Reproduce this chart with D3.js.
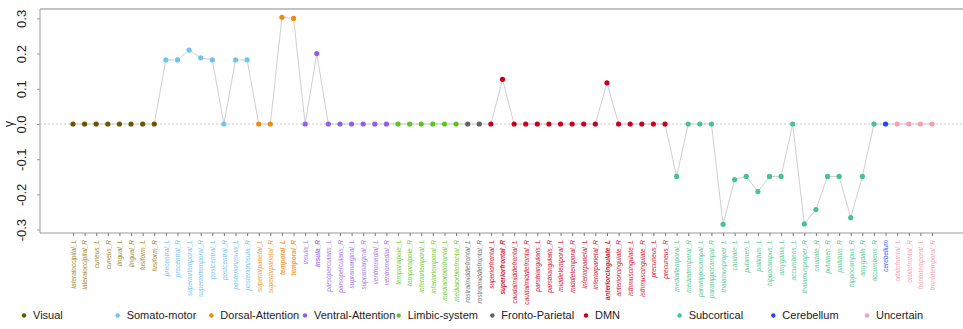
<!DOCTYPE html>
<html>
<head>
<meta charset="utf-8">
<script src="https://cdn.jsdelivr.net/npm/d3@7"></script>
<style>
  body { margin: 0; background: #fff; }
  svg { display: block; font-family: "Liberation Sans", Arial, sans-serif; }
</style>
</head>
<body>
<div id="chart"></div>
<script>
// regions, in plotting order
const regions = [
  'lateraloccipital_L', 'lateraloccipital_R', 'cuneus_L', 'cuneus_R', 'lingual_L', 'lingual_R', 'fusiform_L', 'fusiform_R',
  'precentral_L', 'precentral_R', 'superiortemporal_L', 'superiortemporal_R', 'postcentral_L', 'postcentral_R', 'posteriorinsula_L', 'posteriorinsula_R',
  'superiorparietal_L', 'superiorparietal_R', 'temporal_L', 'temporal_R',
  'insula_L', 'insula_R', 'parsopercularis_L', 'parsopercularis_R', 'supramarginal_L', 'supramarginal_R', 'ventromedial_L', 'ventromedial_R',
  'temporalpole_L', 'temporalpole_R', 'inferiortemporal_L', 'inferiortemporal_R', 'medialorbitofrontal_L', 'medialorbitofrontal_R',
  'rostralmiddlefrontal_L', 'rostralmiddlefrontal_R',
  'superiorfrontal_L', 'superiorfrontal_R', 'caudalmiddlefrontal_L', 'caudalmiddlefrontal_R', 'parstriangularis_L', 'parstriangularis_R',
  'middletemporal_L', 'middletemporal_R', 'inferiorparietal_L', 'inferiorparietal_R', 'anteriorcingulate_L', 'anteriorcingulate_R',
  'isthmuscingulate_L', 'isthmuscingulate_R', 'precuneus_L', 'precuneus_R',
  'medialtemporal_L', 'medialtemporal_R', 'parahippocampal_L', 'parahippocampal_R',
  'thalamusproper_L', 'caudate_L', 'putamen_L', 'pallidum_L', 'hippocampus_L', 'amygdala_L', 'accumbens_L',
  'thalamusproper_R', 'caudate_R', 'putamen_R', 'pallidum_R', 'hippocampus_R', 'amygdala_R', 'accumbens_R',
  'cerebellum',
  'orbitofrontal_L', 'orbitofrontal_R', 'frontotemporal_L', 'frontotemporal_R'
]

// network of each region
const networks = [
  'Visual', 'Visual', 'Visual', 'Visual', 'Visual', 'Visual', 'Visual', 'Visual',
  'Somato-motor', 'Somato-motor', 'Somato-motor', 'Somato-motor', 'Somato-motor', 'Somato-motor', 'Somato-motor', 'Somato-motor',
  'Dorsal-Attention', 'Dorsal-Attention', 'Dorsal-Attention', 'Dorsal-Attention',
  'Ventral-Attention', 'Ventral-Attention', 'Ventral-Attention', 'Ventral-Attention', 'Ventral-Attention', 'Ventral-Attention', 'Ventral-Attention', 'Ventral-Attention',
  'Limbic-system', 'Limbic-system', 'Limbic-system', 'Limbic-system', 'Limbic-system', 'Limbic-system',
  'Fronto-Parietal', 'Fronto-Parietal',
  'DMN', 'DMN', 'DMN', 'DMN', 'DMN', 'DMN', 'DMN', 'DMN', 'DMN', 'DMN', 'DMN', 'DMN', 'DMN', 'DMN', 'DMN', 'DMN',
  'Subcortical', 'Subcortical', 'Subcortical', 'Subcortical', 'Subcortical', 'Subcortical', 'Subcortical', 'Subcortical', 'Subcortical',
  'Subcortical', 'Subcortical', 'Subcortical', 'Subcortical', 'Subcortical', 'Subcortical', 'Subcortical', 'Subcortical', 'Subcortical',
  'Cerebellum',
  'Uncertain', 'Uncertain', 'Uncertain', 'Uncertain'
]

// gamma values
const gamma = [
  0, 0, 0, 0, 0, 0, 0, 0,
  0.182, 0.182, 0.21, 0.188, 0.182, 0, 0.182, 0.182,
  0, 0, 0.303, 0.30,
  0, 0.20, 0, 0, 0, 0, 0, 0,
  0, 0, 0, 0, 0, 0,
  0, 0,
  0, 0.127, 0, 0, 0, 0, 0, 0, 0, 0, 0.117, 0, 0, 0, 0, 0,
  -0.149, 0, 0, 0,
  -0.285, -0.158, -0.149, -0.192, -0.149, -0.149, 0,
  -0.284, -0.243, -0.149, -0.149, -0.266, -0.149, 0,
  0,
  0, 0, 0, 0
]

// labels drawn in bold
const boldLabels = ['temporal_L', 'temporal_R', 'insula_R', 'superiorfrontal_R', 'anteriorcingulate_L']

const legendNames = ['Visual', 'Somato-motor', 'Dorsal-Attention', 'Ventral-Attention', 'Limbic-system',
  'Fronto-Parietal', 'DMN', 'Subcortical', 'Cerebellum', 'Uncertain']
const legendColors = ['#6b5300', '#6ec3f7', '#ee8a10', '#8e5fe8', '#5cc41e',
  '#626262', '#c8001c', '#46c293', '#2548ea', '#f59fb0']
const labelColors = ['#a08c32', '#7cc6f4', '#f0a040', '#a581ec', '#78cd3c',
  '#7a7a7a', '#d4223c', '#5fcaa0', '#3f5fe8', '#f5a8b8']

const yTicks = [-0.3, -0.2, -0.1, 0.0, 0.1, 0.2, 0.3]

const width = 963
const height = 329
const plot = { left: 40, right: 963, top: 9, bottom: 233 }

const color = d3.scaleOrdinal().domain(legendNames).range(legendColors)
const labelColor = d3.scaleOrdinal().domain(legendNames).range(labelColors)

const svg = d3.select('#chart').append('svg')
  .attr('width', width)
  .attr('height', height)

const xScale = d3.scalePoint()
  .domain(regions)
  .range([73, 932])

const yScale = d3.scaleLinear()
  .domain([-0.3, 0.3])
  .range([229.6, 18.4])

// frame: top and left border
svg.append('line')
  .attr('x1', plot.left).attr('x2', plot.right)
  .attr('y1', plot.top).attr('y2', plot.top)
  .attr('stroke', '#c4c4c4').attr('stroke-width', 2)

// y axis
const yAxis = svg.append('g')
  .attr('transform', `translate(${plot.left}, 0)`)
  .call(d3.axisLeft(yScale).tickValues(yTicks).tickSize(3).tickFormat(d3.format('.1f')))
yAxis.select('.domain')
  .attr('d', `M0,${plot.top}V${plot.bottom}`)
  .attr('stroke', '#9a9a9a')
yAxis.selectAll('.tick line').attr('stroke', '#9a9a9a')
yAxis.selectAll('.tick text')
  .attr('x', null).attr('dy', null)
  .attr('transform', 'translate(-14, 0) rotate(-90)')
  .attr('text-anchor', 'middle')
  .attr('font-size', 13)
  .attr('fill', '#222')
  .text(d => d3.format('.1f')(d).replace('−', '-'))

svg.append('text')
  .attr('transform', `translate(13, ${yScale(0)}) rotate(-90)`)
  .attr('text-anchor', 'middle')
  .attr('font-size', 12)
  .attr('fill', '#222')
  .text('γ')

// x axis
const xAxis = svg.append('g')
  .attr('transform', `translate(0, ${plot.bottom})`)
  .call(d3.axisBottom(xScale).tickSize(3).tickSizeOuter(0))
xAxis.select('.domain')
  .attr('d', `M${plot.left},0H${plot.right}`)
  .attr('stroke', '#9a9a9a')
xAxis.selectAll('.tick line').attr('stroke', '#777')
xAxis.selectAll('.tick text')
  .attr('y', null).attr('dy', null)
  .attr('transform', 'translate(2.3, 7) rotate(-90)')
  .attr('text-anchor', 'end')
  .attr('font-size', 6.5)
  .attr('font-style', 'italic')
  .attr('font-weight', d => boldLabels.includes(d) ? 'bold' : 'normal')
  .attr('fill', (d, i) => labelColor(networks[i]))

// zero reference line
svg.append('line')
  .attr('x1', plot.left).attr('x2', plot.right)
  .attr('y1', yScale(0)).attr('y2', yScale(0))
  .attr('stroke', '#c8c8c8')
  .attr('stroke-dasharray', '2,2')

const points = regions.map((r, i) => ({ region: r, network: networks[i], value: gamma[i] }))

const valueLine = d3.line()
  .x(d => xScale(d.region))
  .y(d => yScale(d.value))

svg.append('path')
  .datum(points)
  .attr('d', valueLine)
  .attr('fill', 'none')
  .attr('stroke', '#cfcfcf')
  .attr('stroke-width', 1)

svg.append('g').selectAll('circle')
  .data(points)
  .enter().append('circle')
    .attr('cx', d => xScale(d.region))
    .attr('cy', d => yScale(d.value))
    .attr('r', 2.6)
    .attr('fill', d => color(d.network))

// legend
const legendX = d3.scalePoint()
  .domain(legendNames)
  .range([24, 867])

const legend = svg.append('g').selectAll('g')
  .data(legendNames)
  .enter().append('g')
    .attr('transform', d => `translate(${legendX(d)}, 315.5)`)
legend.append('circle')
  .attr('r', 2.2)
  .attr('fill', d => color(d))
legend.append('text')
  .attr('x', 9)
  .attr('dy', '0.35em')
  .attr('font-size', 11)
  .attr('fill', '#222')
  .text(d => d)
</script>
</body>
</html>
